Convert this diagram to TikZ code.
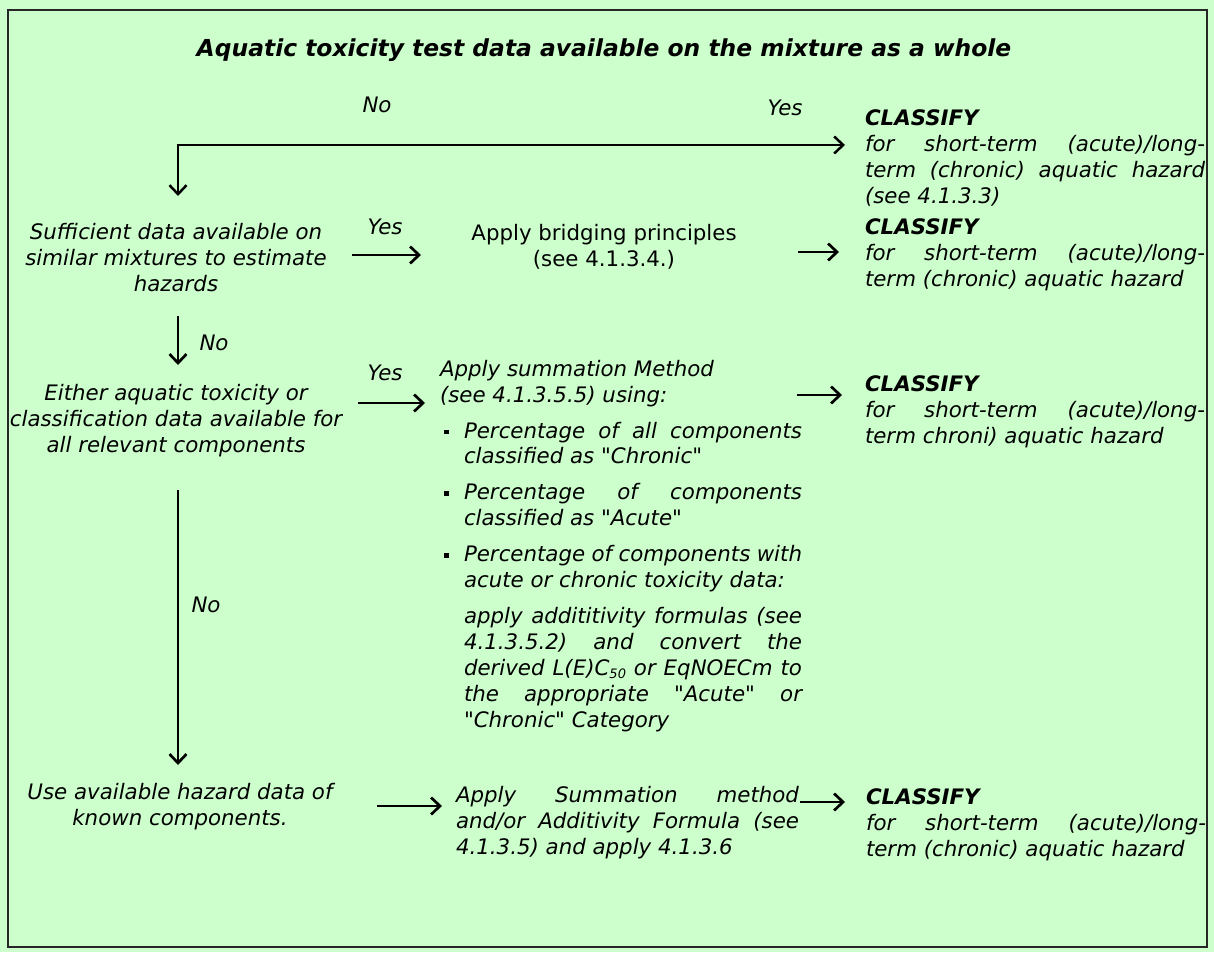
\documentclass[tikz,border=0pt]{standalone}
\usepackage{fontspec}
\setmainfont{DejaVu Sans}
\newfontfamily\plainqf{DejaVu Sans}
\usetikzlibrary{arrows.meta}
\definecolor{bgcol}{HTML}{CCFFCC}
\newcommand\bodyfont{\fontsize{21.33pt}{25.9pt}\selectfont}
\newcommand\titlefont{\fontsize{23.4pt}{28pt}\selectfont}
\newcommand\jl[2]{\makebox[#1pt][s]{#2}}
\newcommand\bitem{\hspace*{4pt}\rule[4pt]{4.5pt}{4.5pt}\hspace*{15.5pt}}
\newcommand\bind{\hspace*{24pt}}
\newcommand\subf[1]{\raisebox{-3pt}{\fontsize{13pt}{13pt}\selectfont #1}}
\newcommand\dq{{\plainqf"}}
\begin{document}
\begin{tikzpicture}[x=1pt,y=-1pt,
  txt/.style={inner sep=0pt,outer sep=0pt,font=\bodyfont\itshape},
  utxt/.style={inner sep=0pt,outer sep=0pt,font=\bodyfont},
  lbl/.style={inner sep=0pt,outer sep=0pt,font=\bodyfont\itshape},
  arr/.style={line width=2.7pt,-{Straight Barb[length=9pt,width=17pt]}},
  arrtwo/.style={line width=2.5pt,{Straight Barb[length=9pt,width=17pt]}-{Straight Barb[length=9pt,width=17pt]}}]
\fill[bgcol] (0,0) rectangle (1214,952);
\useasboundingbox (0,0) rectangle (1214,952);
\draw[line width=1.5pt,black!85] (8,10) rectangle (1207,947);

% title
\node[inner sep=0pt,font=\titlefont\bfseries\itshape] (title) at (604,50)
  {Aquatic toxicity test data available on the mixture as a whole};
\node[lbl] (no1) at (377,105) {No};
\node[lbl] (yes1) at (785,108) {Yes};

% classify 1
\node[txt,anchor=north west,align=left] (cls1) at (865,110)
  {\textbf{CLASSIFY}\\
   \jl{340}{for short-term (acute)/long-}\\
   \jl{340}{term (chronic) aquatic hazard}\\
   (see 4.1.3.3)};

% sufficient data
\node[txt,anchor=north,align=center] (suff) at (176,223)
  {Sufficient data available on\\similar mixtures to estimate\\hazards};
\node[lbl] (yes2) at (385,227) {Yes};
\node[utxt,anchor=north,align=center] (bridge) at (604,224)
  {Apply bridging principles\\(see 4.1.3.4.)};
\node[txt,anchor=north west,align=left] (cls2) at (865,219)
  {\textbf{CLASSIFY}\\
   \jl{340}{for short-term (acute)/long-}\\
   term (chronic) aquatic hazard};

% either
\node[lbl] (no2) at (214,343) {No};
\node[txt,anchor=north,align=center] (either) at (176,384)
  {Either aquatic toxicity or\\classification data available for\\all relevant components};
\node[lbl] (yes3) at (385,373) {Yes};
\node[txt,anchor=north west,align=left] (summ) at (440,360)
  {Apply summation Method\\
   (see 4.1.3.5.5) using:\\[10pt]
   \bitem\jl{338}{Percentage of all components}\\
   \bind classified as \dq Chronic\dq\\[10pt]
   \bitem\jl{338}{Percentage of components}\\
   \bind classified as \dq Acute\dq\\[10pt]
   \bitem\jl{338}{Percentage of components with}\\
   \bind acute or chronic toxicity data:\\[10pt]
   \bind\jl{338}{apply addititivity formulas (see}\\
   \bind\jl{338}{4.1.3.5.2) and convert the}\\
   \bind\jl{338}{derived L(E)C\subf{50} or EqNOECm to}\\
   \bind\jl{338}{the appropriate \dq Acute\dq{} or}\\
   \bind \dq Chronic\dq{} Category};
\node[txt,anchor=north west,align=left] (cls3) at (865,376)
  {\textbf{CLASSIFY}\\
   \jl{340}{for short-term (acute)/long-}\\
   term chroni) aquatic hazard};

% use available
\node[lbl] (no3) at (206,605) {No};
\node[txt,anchor=north,align=center] (use) at (180,783)
  {Use available hazard data of\\known components.};
\node[txt,anchor=north west,align=left] (summ2) at (456,786)
  {\jl{343}{Apply Summation method}\\
   \jl{343}{and/or Additivity Formula (see}\\
   4.1.3.5) and apply 4.1.3.6};
\node[txt,anchor=north west,align=left] (cls4) at (866,789)
  {\textbf{CLASSIFY}\\
   \jl{340}{for short-term (acute)/long-}\\
   term (chronic) aquatic hazard};

% connector end points
\coordinate (t1r) at (845,145);
\coordinate (t1c) at (178,145);
\coordinate (t1d) at (178,196);
\coordinate (b1s) at (352,255);
\coordinate (b1e) at (421,255);
\coordinate (b2s) at (798,252);
\coordinate (b2e) at (839,252);
\coordinate (d1s) at (178,316);
\coordinate (d1e) at (178,365);
\coordinate (s1s) at (358,403);
\coordinate (s1e) at (425,403);
\coordinate (s2s) at (797,395);
\coordinate (s2e) at (842,395);
\coordinate (d2s) at (178,490);
\coordinate (d2e) at (178,765);
\coordinate (u1s) at (377,806);
\coordinate (u1e) at (442,806);
\coordinate (u2s) at (800,802);
\coordinate (u2e) at (845,802);

\draw[arrtwo] (t1r) -- (t1c) -- (t1d);
\draw[arr] (b1s) -- (b1e);
\draw[arr] (b2s) -- (b2e);
\draw[arr] (d1s) -- (d1e);
\draw[arr] (s1s) -- (s1e);
\draw[arr] (s2s) -- (s2e);
\draw[arr] (d2s) -- (d2e);
\draw[arr] (u1s) -- (u1e);
\draw[arr] (u2s) -- (u2e);
\end{tikzpicture}
\end{document}
